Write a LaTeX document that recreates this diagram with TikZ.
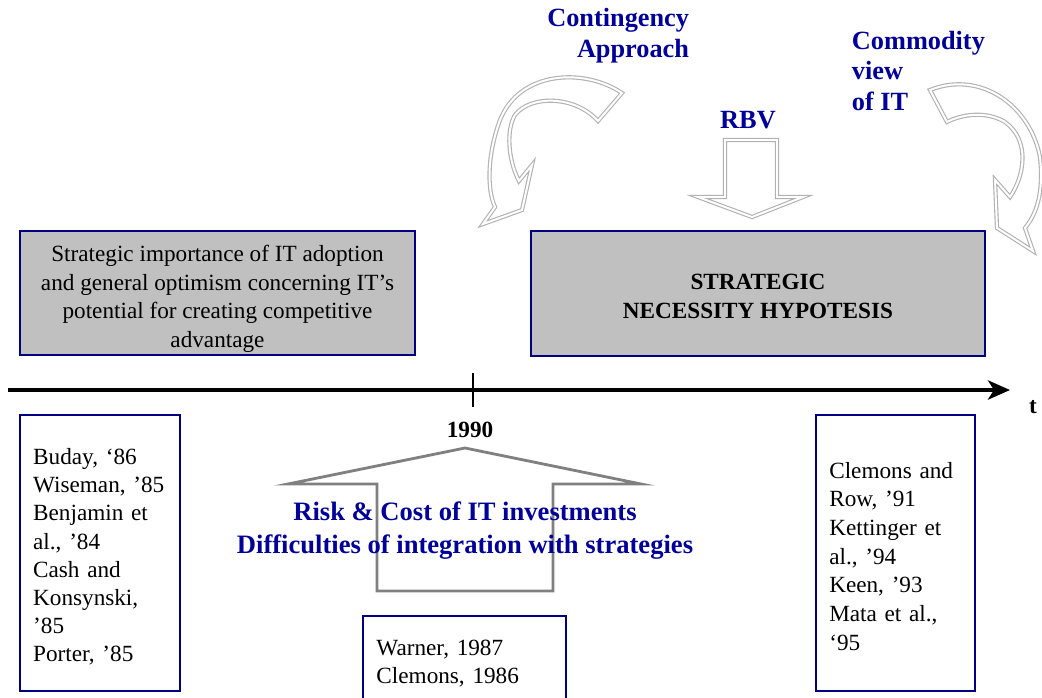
\documentclass[tikz,border=0pt]{standalone}
\usepackage{fontspec}
\setmainfont{Liberation Serif}
\usetikzlibrary{arrows.meta}
\definecolor{boxnavy}{RGB}{0,0,128}
\definecolor{labelblue}{RGB}{0,0,153}
\definecolor{boxgrey}{RGB}{192,192,192}
\tikzset{
  greybox/.style={draw=boxnavy, line width=1.2pt, fill=boxgrey, align=center, font=\fontsize{16.5}{20.5}\selectfont},
  refbox/.style={draw=boxnavy, line width=1.2pt, fill=white, align=left, inner xsep=0.33cm, font=\fontsize{16.5}{20}\selectfont},
  bluelabel/.style={text=labelblue, font=\fontsize{18.7}{22}\selectfont\bfseries},
  hollow/.style={draw=gray!60, line width=0.8pt, double=white, double distance=1.4pt, line join=miter, fill=white},
  bigup/.style={draw=gray, line width=2pt, line join=miter},
  timeline/.style={line width=2.8pt, -{Stealth[length=5.5mm, width=4.8mm, inset=1.5mm]}},
}

\begin{document}
\begin{tikzpicture}[x=0.025cm, y=-0.025cm]
  \useasboundingbox (0,0) rectangle (1042,698);

  % timeline
  \coordinate (tstart) at (8,390);
  \coordinate (tend) at (1010,390);
  \coordinate (ticktop) at (473,373);
  \coordinate (tickbot) at (473,407);
  \draw[timeline] (tstart) -- (tend);
  \draw[line width=0.8pt] (ticktop) -- (tickbot);
  \node[font=\fontsize{16.5}{20}\selectfont\bfseries] (tlabel) at (1033,407) {t};
  \node[font=\fontsize{16.5}{20}\selectfont\bfseries] (year) at (470,430) {1990};

  % upper boxes
  \node[greybox, inner ysep=0pt, minimum width=9.875cm, minimum height=3.1cm] (optimism) at (217.5,293)
    {\rule{0pt}{20pt}Strategic importance of IT adoption\\and general optimism concerning IT’s\\potential for creating competitive\\advantage};
  \node[greybox, minimum width=11.35cm, minimum height=3.125cm, font=\fontsize{16.5}{20.5}\selectfont\bfseries] (necessity) at (758,293.5)
    {\rule{0pt}{15pt}STRATEGIC\\NECESSITY HYPOTESIS};

  % hollow arrows above
  \draw[hollow] (622,93) .. controls (585,68) and (520,70) .. (500,120)
    .. controls (487,155) and (487,190) .. (495,207) -- (483,224) -- (522,210)
    -- (532,165) -- (519,181) .. controls (508,160) and (506,130) .. (515,115)
    .. controls (530,95) and (575,95) .. (598,121) -- cycle;
  \draw[hollow] (725,140) -- (777,140) -- (777,197) -- (803,197) -- (752,217)
    -- (698,197) -- (725,197) -- cycle;
  \draw[hollow] (930,90) .. controls (980,70) and (1030,105) .. (1040,157)
    .. controls (1043,185) and (1040,210) .. (1025,228) -- (1033,251) -- (997,228)
    -- (995,180) -- (1010,197) .. controls (1025,175) and (1030,140) .. (1005,122)
    .. controls (985,110) and (960,115) .. (947,122) -- cycle;
  \node[bluelabel, align=right, anchor=east] (contingency) at (694,35.5) {Contingency\\Approach};
  \node[bluelabel] (rbv) at (748,120) {RBV};
  \node[bluelabel, align=left, anchor=west] (commodity) at (847,71) {Commodity\\view\\of IT};

  % big arrow up to 1990
  \draw[bigup] (465,448) -- (641,484) -- (553,484) -- (553,591) -- (377,591)
    -- (377,484) -- (288,484) -- cycle;
  \node[bluelabel, align=center, font=\fontsize{18.9}{23.4}\selectfont\bfseries] (risk) at (465,530.5)
    {Risk \& Cost of IT investments\\Difficulties of integration with strategies};

  % literature boxes
  \node[refbox, minimum width=4cm, minimum height=6.9cm, text width=3.34cm] (early) at (100,553)
    {\rule{0pt}{17pt}Buday, ‘86\\Wiseman, ’85\\Benjamin et\\al., ’84\\Cash and\\Konsynski,\\’85\\Porter, ’85};
  \node[refbox, minimum width=5.075cm, minimum height=2.225cm, text width=4.4cm] (middle) at (464.5,660.5)
    {\rule{0pt}{15pt}Warner, 1987\\Clemons, 1986};
  \node[refbox, minimum width=3.975cm, minimum height=6.9cm, text width=3.31cm, font=\fontsize{16.5}{20.4}\selectfont] (late) at (895.5,553)
    {\rule{0pt}{16pt}Clemons and\\Row, ’91\\Kettinger et\\al., ’94\\Keen, ’93\\Mata et al.,\\‘95};
\end{tikzpicture}
\end{document}
